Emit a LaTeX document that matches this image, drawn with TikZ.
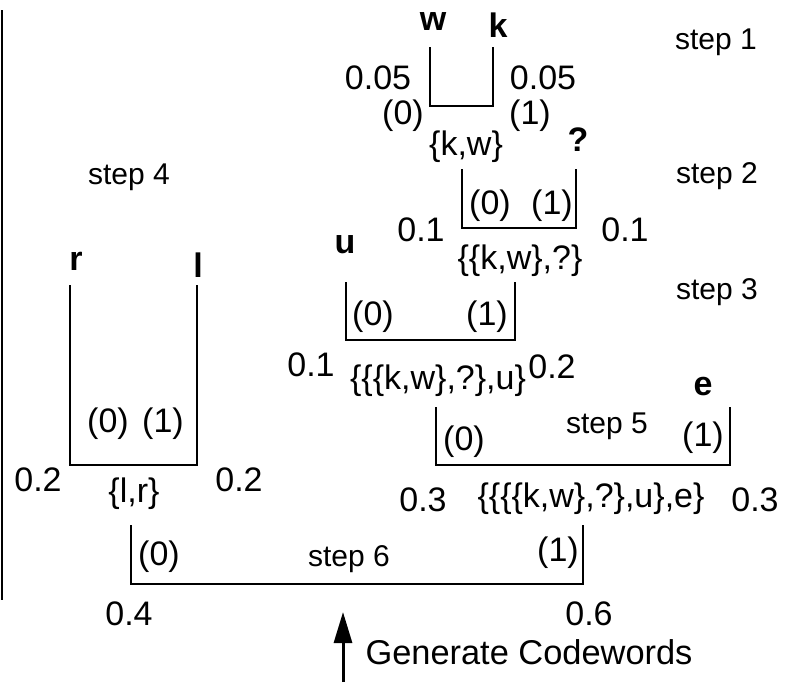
\documentclass[tikz,border=0pt]{standalone}
\usepackage{fontspec}
\setmainfont{Liberation Sans}
\usepackage{tikz}
\usetikzlibrary{arrows.meta,positioning,calc}

\tikzset{
  lbl/.style={font=\fontsize{17}{20}\selectfont, inner sep=0pt},
  leaf/.style={font=\fontsize{17}{20}\selectfont\bfseries, inner sep=0pt},
  steplbl/.style={font=\fontsize{15}{18}\selectfont, inner sep=0pt},
  bracket/.style={line width=0.6pt},
}

\begin{document}
\begin{tikzpicture}[x=0.5pt,y=-0.5pt]
  \useasboundingbox (0,0) rectangle (791,682);
  % left rule
  \coordinate (ruletop) at (2,10);
  \coordinate (rulebot) at (2,600);
  \draw[line width=0.8pt] (ruletop) -- (rulebot);

  % step 1
  \node[leaf] (w) at (433,22) {w};
  \node[leaf] (k) at (498,25) {k};
  \coordinate (b1a) at (430,47);
  \coordinate (b1b) at (493,106);
  \draw[bracket] (b1a) |- (b1b) -- (b1b |- b1a);
  \node[lbl] (p1l) at (378,78) {0.05};
  \node[lbl] (p1r) at (543,78) {0.05};
  \node[lbl] (c1l) at (403,116) {(0)};
  \node[lbl] (c1r) at (530,116) {(1)};
  \node[lbl] (set1) at (466,147) {\{k,w\}};
  \node[steplbl] (st1) at (716,42) {step 1};

  % step 2
  \node[leaf] (q) at (578,140) {?};
  \coordinate (b2a) at (462,169);
  \coordinate (b2b) at (576,228);
  \draw[bracket] (b2a) |- (b2b) -- (b2b |- b2a);
  \node[lbl] (c2l) at (490,206) {(0)};
  \node[lbl] (c2r) at (552,206) {(1)};
  \node[lbl] (p2l) at (421,230) {0.1};
  \node[lbl] (p2r) at (625,230) {0.1};
  \node[lbl] (set2) at (520,261) {\{\{k,w\},?\}};
  \node[steplbl] (st2) at (717,176) {step 2};

  % step 3
  \node[leaf] (u) at (345,245) {u};
  \coordinate (b3a) at (346,282);
  \coordinate (b3b) at (515,340);
  \draw[bracket] (b3a) |- (b3b) -- (b3b |- b3a);
  \node[lbl] (c3l) at (373,317) {(0)};
  \node[lbl] (c3r) at (487,317) {(1)};
  \node[lbl] (p3l) at (311,365) {0.1};
  \node[lbl] (set3) at (438,381) {\{\{\{k,w\},?\},u\}};
  \node[lbl] (p3r) at (552,367) {0.2};
  \node[steplbl] (st3) at (717,292) {step 3};

  % step 4
  \node[steplbl] (st4) at (129,177) {step 4};
  \node[leaf] (r) at (76,261) {r};
  \node[leaf] (l) at (198,265) {l};
  \coordinate (b4a) at (70,285);
  \coordinate (b4b) at (197,465);
  \draw[bracket] (b4a) |- (b4b) -- (b4b |- b4a);
  \node[lbl] (c4l) at (108,424) {(0)};
  \node[lbl] (c4r) at (163,424) {(1)};
  \node[lbl] (p4l) at (38,480) {0.2};
  \node[lbl] (set4) at (134,494) {\{l,r\}};
  \node[lbl] (p4r) at (239,480) {0.2};

  % step 5
  \node[leaf] (e) at (703,387) {e};
  \coordinate (b5a) at (436,407);
  \coordinate (b5b) at (730,465);
  \draw[bracket] (b5a) |- (b5b) -- (b5b |- b5a);
  \node[lbl] (c5l) at (464,442) {(0)};
  \node[steplbl] (st5) at (607,426) {step 5};
  \node[lbl] (c5r) at (703,438) {(1)};
  \node[lbl] (p5l) at (423,500) {0.3};
  \node[lbl] (set5) at (591,499) {\{\{\{\{k,w\},?\},u\},e\}};
  \node[lbl] (p5r) at (755,500) {0.3};

  % step 6
  \coordinate (b6a) at (131,525);
  \coordinate (b6b) at (583,584);
  \draw[bracket] (b6a) |- (b6b) -- (b6b |- b6a);
  \node[lbl] (c6l) at (159,557) {(0)};
  \node[steplbl] (st6) at (349,559) {step 6};
  \node[lbl] (c6r) at (558,553) {(1)};
  \node[lbl] (p6l) at (129,614) {0.4};
  \node[lbl] (p6r) at (589,614) {0.6};

  % codeword arrow
  \coordinate (arrowfoot) at (343,682);
  \coordinate (arrowtip) at (343,612);
  \draw[line width=1.5pt,-{Triangle[length=15.5pt,width=9pt]}] (arrowfoot) -- (arrowtip);
  \node[lbl, font=\fontsize{17.2}{20}\selectfont] (gen) at (529,652) {Generate Codewords};
\end{tikzpicture}
\end{document}
